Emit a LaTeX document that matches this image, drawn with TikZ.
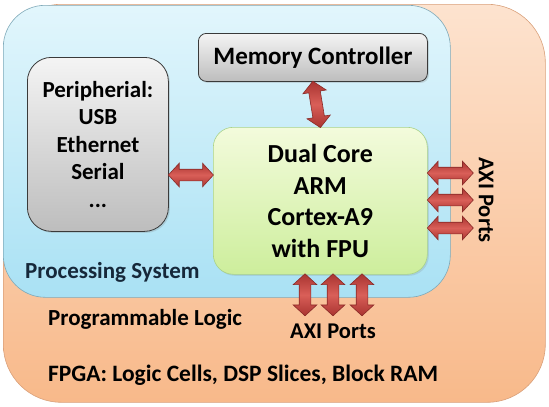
\documentclass[tikz,border=0pt]{standalone}
\usepackage{fontspec}
\setmainfont{Carlito}
\usetikzlibrary{shapes.arrows,shadows}
\definecolor{plTop}{HTML}{FDE3CF}
\definecolor{plBot}{HTML}{F8B98A}
\definecolor{plLine}{HTML}{D9A07A}
\definecolor{psTop}{HTML}{E2F6FC}
\definecolor{psBot}{HTML}{A9E1F4}
\definecolor{psLine}{HTML}{7FA9B8}
\definecolor{gyTop}{HTML}{F4F4F4}
\definecolor{gyBot}{HTML}{BDBDBD}
\definecolor{gyLine}{HTML}{3A3A3A}
\definecolor{gnTop}{HTML}{F3FBDC}
\definecolor{gnBot}{HTML}{CDEE9C}
\definecolor{gnLine}{HTML}{A9D28A}
\definecolor{arMid}{HTML}{D95F58}
\definecolor{arEdge}{HTML}{A93431}
\definecolor{arLine}{HTML}{8A2A27}
\definecolor{psText}{HTML}{16283A}
\begin{document}
\begin{tikzpicture}[x=1pt,y=-1pt,
  every node/.style={font=\bfseries, inner sep=0pt},
  region/.style={rectangle, draw, line width=0.6pt, anchor=north west},
  graybox/.style={rectangle, draw=gyLine, line width=0.8pt, top color=gyTop, bottom color=gyBot, align=center, anchor=north west, drop shadow={shadow xshift=1.5pt, shadow yshift=-1.5pt, opacity=0.25}},
  dblarr/.style={double arrow, draw=arLine, line width=0.6pt, top color=arEdge, bottom color=arEdge, middle color=arMid, inner xsep=0pt, inner ysep=5.5pt, double arrow head extend=6pt, double arrow tip angle=95, sloped, midway},
  lbl/.style={font=\bfseries\fontsize{23}{27}\selectfont, anchor=west}
]
\useasboundingbox (0,0) rectangle (549,407);
% regions
\node[region, draw=plLine, top color=plTop, bottom color=plBot, rounded corners=58pt, minimum width=542pt, minimum height=398pt] (pl) at (3,4) {};
\node[region, draw=psLine, top color=psTop, bottom color=psBot, rounded corners=42pt, minimum width=447pt, minimum height=292pt] (ps) at (3,5) {};
% boxes
\node[graybox, rounded corners=8pt, minimum width=229pt, minimum height=48pt, font=\bfseries\fontsize{25}{29}\selectfont] (mem) at (198,33) {Memory Controller};
\node[graybox, rounded corners=24pt, minimum width=141pt, minimum height=174pt, font=\bfseries\fontsize{23}{27.5}\selectfont] (per) at (27,57) {Peripherial:\\USB\\Ethernet\\Serial\\...};
\node[rectangle, draw=gnLine, line width=0.6pt, top color=gnTop, bottom color=gnBot, rounded corners=20pt, minimum width=214pt, minimum height=147pt, anchor=north west, align=center, font=\bfseries\fontsize{26}{31.5}\selectfont, drop shadow={shadow xshift=1.5pt, shadow yshift=-1.5pt, opacity=0.2}] (core) at (213,127) {Dual Core\\ARM\\Cortex-A9\\with FPU};
% labels
\node[lbl, text=psText] (pstext) at (25,272) {Processing System};
\node[lbl] (pltext) at (48,319) {Programmable Logic};
\node[lbl, font=\bfseries\fontsize{23.5}{27}\selectfont] (fpga) at (48,375) {FPGA: Logic Cells, DSP Slices, Block RAM};
\node[font=\bfseries\fontsize{22.5}{26}\selectfont] (axib) at (333,331) {AXI Ports};
\node[font=\bfseries\fontsize{22.5}{26}\selectfont, rotate=-90] (axir) at (486,200) {AXI Ports};
% endpoints
\coordinate (pa) at (190,175);
\coordinate (r1) at (473,173);
\coordinate (r2) at (473,200);
\coordinate (r3) at (473,228);
\coordinate (b1) at (305,315);
\coordinate (b2) at (333,315);
\coordinate (b3) at (362,315);
% arrows
\path (mem.south) -- (core.north) node[dblarr, minimum height=47pt] {};
\path (per.east |- pa) -- (core.west |- pa) node[dblarr, minimum height=45pt] {};
\path (core.east |- r1) -- (r1) node[dblarr, minimum height=46pt] {};
\path (core.east |- r2) -- (r2) node[dblarr, minimum height=46pt] {};
\path (core.east |- r3) -- (r3) node[dblarr, minimum height=46pt] {};
\path (b1 |- core.south) -- (b1) node[dblarr, minimum height=42pt] {};
\path (b2 |- core.south) -- (b2) node[dblarr, minimum height=42pt] {};
\path (b3 |- core.south) -- (b3) node[dblarr, minimum height=42pt] {};
\end{tikzpicture}
\end{document}
